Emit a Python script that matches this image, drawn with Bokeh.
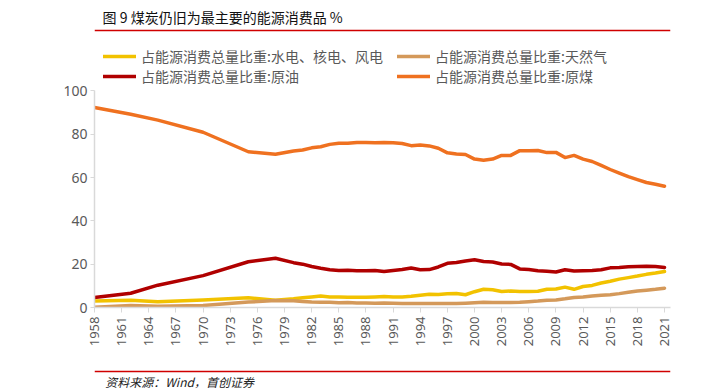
from bokeh.plotting import figure
from bokeh.models import Legend, LegendItem, Label, Span, FixedTicker, Range1d
from bokeh.layouts import column
from bokeh.embed import file_html
from bokeh.resources import INLINE
from math import pi

years = [1958, 1962, 1965, 1970, 1975, 1978,
         1980, 1981, 1982, 1983, 1984, 1985, 1986, 1987, 1988, 1989,
         1990, 1991, 1992, 1993, 1994, 1995, 1996, 1997, 1998, 1999,
         2000, 2001, 2002, 2003, 2004, 2005, 2006, 2007, 2008, 2009,
         2010, 2011, 2012, 2013, 2014, 2015, 2016, 2017, 2018, 2019,
         2020, 2021]

hydro_nuclear_wind = [3.0, 3.3, 2.6, 3.5, 4.5, 3.4,
                      4.0, 4.5, 4.9, 5.3, 4.9, 4.9, 4.7, 4.7, 4.7, 4.9,
                      5.1, 4.8, 4.9, 5.2, 5.7, 6.1, 6.0, 6.4, 6.5, 5.9,
                      7.3, 8.4, 8.2, 7.4, 7.6, 7.4, 7.4, 7.5, 8.4, 8.5,
                      9.4, 8.4, 9.7, 10.2, 11.3, 12.1, 13.1, 13.8, 14.5, 15.3,
                      15.9, 16.6]

natural_gas = [0.1, 0.9, 0.6, 0.9, 2.5, 3.2,
               3.1, 2.8, 2.5, 2.4, 2.4, 2.2, 2.3, 2.1, 2.1, 2.0,
               2.1, 2.0, 1.9, 1.9, 1.9, 1.8, 1.8, 1.8, 1.8, 2.0,
               2.2, 2.4, 2.3, 2.3, 2.3, 2.4, 2.7, 3.0, 3.4, 3.5,
               4.0, 4.6, 4.8, 5.3, 5.7, 5.9, 6.4, 7.0, 7.6, 8.0,
               8.4, 8.9]

crude_oil = [4.6, 6.6, 10.3, 14.7, 21.1, 22.7,
             20.7, 20.0, 18.9, 18.1, 17.4, 17.1, 17.2, 17.0, 17.0, 17.1,
             16.6, 17.1, 17.5, 18.2, 17.4, 17.5, 18.7, 20.4, 20.8, 21.5,
             22.0, 21.2, 21.0, 20.1, 19.9, 17.8, 17.5, 17.0, 16.7, 16.4,
             17.4, 16.8, 17.0, 17.1, 17.4, 18.3, 18.5, 18.8, 18.9, 19.0,
             18.9, 18.5]

raw_coal = [92.3, 89.2, 86.5, 80.9, 71.9, 70.7,
            72.2, 72.7, 73.7, 74.2, 75.3, 75.8, 75.8, 76.2, 76.2, 76.0,
            76.2, 76.1, 75.7, 74.7, 75.0, 74.6, 73.5, 71.4, 70.9, 70.6,
            68.5, 68.0, 68.5, 70.2, 70.2, 72.4, 72.4, 72.5, 71.5, 71.6,
            69.2, 70.2, 68.5, 67.4, 65.6, 63.7, 62.0, 60.4, 59.0, 57.7,
            56.9, 56.0]

series_names = ["占能源消费总量比重:水电、核电、风电",
                "占能源消费总量比重:天然气",
                "占能源消费总量比重:原油",
                "占能源消费总量比重:原煤"]
series_values = [hydro_nuclear_wind, natural_gas, crude_oil, raw_coal]
series_colors = ["#F2C200", "#D4995A", "#B00000", "#EF7120"]

x_ticks = [1958, 1961, 1964, 1967, 1970, 1973, 1976, 1979, 1982, 1985, 1988,
           1991, 1994, 1997, 2000, 2003, 2006, 2009, 2012, 2015, 2018, 2021]
y_ticks = [0, 20, 40, 60, 80, 100]

title_text = "图 9 煤炭仍旧为最主要的能源消费品  %"
source_text = "资料来源：Wind，首创证券"

W = 712
RED = "#D00000"
CJK = "Noto Sans CJK SC"


def banner(height):
    f = figure(width=W, height=height, output_backend="svg", toolbar_location=None,
               title=None, x_range=Range1d(0, 640), y_range=Range1d(0, height),
               x_axis_location=None, y_axis_location=None,
               min_border_left=40, min_border_right=32, min_border_top=0,
               min_border_bottom=0)
    f.outline_line_color = None
    f.grid.visible = False
    return f


# header: title and red rule
head = banner(34)
head.add_layout(Label(x=9, y=18, text=title_text, text_font=CJK,
                      text_font_size="14px", text_color="#111111",
                      text_baseline="middle"))
head.add_layout(Span(location=4, dimension="width", line_color=RED, line_width=1.5))

# main chart
p = figure(width=W, height=326, output_backend="svg", toolbar_location=None,
           title=None,
           x_range=Range1d(1958, 2021.66), y_range=Range1d(0, 121.4),
           min_border_left=94, min_border_right=42, min_border_top=10,
           min_border_bottom=53)
p.outline_line_color = None
p.xgrid.grid_line_color = None
p.ygrid.grid_line_color = None

items = []
for name, vals, col in zip(series_names, series_values, series_colors):
    r = p.line(years, vals, line_color=col, line_width=3.5, line_join="round",
               line_cap="round")
    items.append(LegendItem(label=name, renderers=[r]))

axis_col = "#D9D9D9"
label_col = "#595959"
tick_font = "Noto Sans"

p.xaxis.ticker = FixedTicker(ticks=x_ticks)
p.xaxis.major_label_orientation = pi / 2
p.xaxis.axis_line_color = axis_col
p.xaxis.axis_line_width = 1.5
p.xaxis.major_tick_line_color = axis_col
p.xaxis.major_tick_out = 5
p.xaxis.major_tick_in = 0
p.xaxis.minor_tick_line_color = None
p.xaxis.major_label_text_color = label_col
p.xaxis.major_label_text_font = tick_font
p.xaxis.major_label_text_font_size = "13px"
p.xaxis.major_label_standoff = 4

p.yaxis.ticker = FixedTicker(ticks=y_ticks)
p.yaxis.bounds = (0, 100)
p.yaxis.axis_line_color = axis_col
p.yaxis.axis_line_width = 1.5
p.yaxis.major_tick_line_color = axis_col
p.yaxis.major_tick_out = 4
p.yaxis.major_tick_in = 0
p.yaxis.minor_tick_line_color = None
p.yaxis.major_label_text_color = label_col
p.yaxis.major_label_text_font = tick_font
p.yaxis.major_label_text_font_size = "14px"
p.yaxis.major_label_standoff = 3

legend = Legend(items=items, location=(9, 221), orientation="horizontal", ncols=2,
                label_text_font=CJK, label_text_font_size="14px",
                label_text_color=label_col, glyph_width=33, glyph_height=18,
                label_height=18, label_width=256, label_standoff=5, spacing=0,
                padding=0, margin=0, background_fill_alpha=0,
                border_line_color=None)
p.add_layout(legend, "center")

# footer: red rule and source
foot = banner(29)
foot.add_layout(Span(location=18, dimension="width", line_color=RED, line_width=1.5))
foot.add_layout(Label(x=12, y=8, text=source_text, text_font=CJK,
                      text_font_size="12px", text_font_style="italic",
                      text_color="#222222", text_baseline="middle"))

layout = column(head, p, foot, spacing=0)
open("out.html", "w").write(file_html(layout, INLINE))
